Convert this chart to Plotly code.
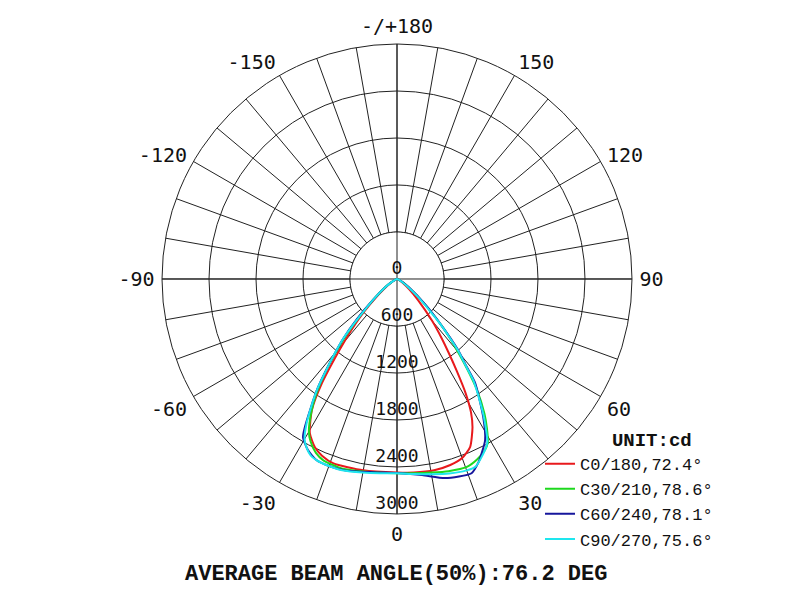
import plotly.graph_objects as go

# ---------------- data (gamma angle in degrees, intensity in cd) ----------------
c0_theta = [-90, -60, -55, -50, -45, -42, -40, -38, -35.8, -33, -29.5, -26, -23, -19, -10, 0,
            5, 11, 16, 20, 23.5, 27, 29, 31, 33, 35, 37, 40, 45, 50, 55, 60, 90]
c0_r = [0, 70, 150, 300, 600, 850, 1050, 1300, 1636, 1995, 2260, 2390, 2450, 2490, 2480, 2470,
        2480, 2487, 2470, 2432, 2340, 2123, 1950, 1700, 1400, 1150, 950, 700, 380, 200, 100, 50, 0]

c30_theta = [-90, -60, -55, -48, -45, -42, -40, -37.5, -35, -33, -30, -28, -25, -22, -16, -10, 0,
             5, 10, 15, 20.4, 24, 27, 29, 31, 33, 36, 38, 40, 42, 45, 50, 55, 60, 90]
c30_r = [0, 80, 180, 450, 680, 980, 1200, 1510, 1800, 2000, 2250, 2350, 2450, 2500, 2520, 2495, 2480,
         2490, 2510, 2540, 2560, 2520, 2460, 2390, 2230, 2050, 1720, 1450, 1200, 1000, 700, 350, 170, 80, 0]

c60_theta = [-90, -60, -55, -48.8, -45, -42, -39.4, -35.8, -31.9, -30.7, -27.5, -24, -20, -15, -7, 0,
             7.3, 13.6, 21, 24, 26, 28.7, 32, 36.9, 38.5, 40.7, 44, 48, 55, 60, 90]
c60_r = [0, 80, 180, 408, 720, 1030, 1290, 1747, 2225, 2350, 2463, 2530, 2540, 2530, 2485, 2478,
         2523, 2615, 2656, 2560, 2470, 2343, 2077, 1660, 1420, 1196, 800, 480, 180, 90, 0]

c90_theta = [-90, -70, -60, -55, -50, -47, -44, -42, -40, -38, -36, -34, -32, -30, -28, -26, -24,
             -20, -16, -10, -5, 0, 5, 10, 15, 20, 22.5, 25, 28.8, 32, 34, 37, 38.5, 40.5, 42, 44,
             46, 50, 55, 60, 70, 90]
c90_r = [0, 20, 80, 180, 350, 520, 780, 1030, 1230, 1450, 1720, 1950, 2180, 2360, 2450, 2510, 2530,
         2540, 2540, 2510, 2490, 2480, 2500, 2530, 2570, 2600, 2600, 2530, 2390, 2100, 1900, 1620,
         1400, 1200, 1000, 780, 580, 330, 150, 70, 20, 0]

series_names = ["C0/180,72.4°", "C30/210,78.6°", "C60/240,78.1°", "C90/270,75.6°"]
series_colors = ["#e8191c", "#1ed81e", "#16169c", "#1ee6ee"]

radial_ticks = [600, 1200, 1800, 2400, 3000]
radial_labels = ["0", "600", "1200", "1800", "2400", "3000"]
angle_ticks = list(range(0, 360, 10))
angle_label_map = {0: "0", 30: "30", 60: "60", 90: "90", 120: "120", 150: "150",
                   180: "-/+180", 210: "-150", 240: "-120", 270: "-90", 300: "-60", 330: "-30"}
angle_text = [angle_label_map.get(a, "") for a in angle_ticks]

summary_text = "AVERAGE BEAM ANGLE(50%):76.2 DEG"
unit_text = "UNIT:cd"

# ---------------- figure ----------------
fig = go.Figure()

# white inner disc (spokes start at the 600 ring)
circ_theta = [i for i in range(0, 361, 2)]
fig.add_trace(go.Scatterpolar(
    r=[radial_ticks[0]] * len(circ_theta), theta=circ_theta, mode="lines",
    fill="toself", fillcolor="white", line=dict(color="#222", width=1),
    hoverinfo="skip", showlegend=False))

# cross lines through the centre
for a, b in [(180, 0), (90, 270)]:
    fig.add_trace(go.Scatterpolar(
        r=[radial_ticks[-1], 0, radial_ticks[-1]], theta=[a, a, b], mode="lines",
        line=dict(color="#222", width=1), hoverinfo="skip", showlegend=False))

for th, rr, name, col in zip([c0_theta, c30_theta, c60_theta, c90_theta],
                             [c0_r, c30_r, c60_r, c90_r], series_names, series_colors):
    fig.add_trace(go.Scatterpolar(r=rr, theta=th, mode="lines", name=name,
                                  line=dict(color=col, width=2, shape="spline", smoothing=0.6)))

# radial labels along the 0 direction
fig.add_trace(go.Scatterpolar(
    r=[0] + radial_ticks, theta=[0] * (len(radial_ticks) + 1), mode="text",
    text=radial_labels, textposition="top center",
    textfont=dict(family="DejaVu Sans Mono", size=18, color="#111"),
    hoverinfo="skip", showlegend=False))

fig.update_layout(
    width=800, height=600,
    margin=dict(l=0, r=0, t=0, b=0),
    paper_bgcolor="white",
    polar=dict(
        domain=dict(x=[0.1925, 0.78], y=[0.1567, 0.94]),
        bgcolor="white",
        angularaxis=dict(
            rotation=-90, direction="counterclockwise",
            tickmode="array", tickvals=angle_ticks, ticktext=angle_text,
            ticks="outside", ticklen=3, tickcolor="rgba(0,0,0,0)",
            showline=True, linecolor="#222", linewidth=1,
            showgrid=True, gridcolor="#222", gridwidth=1,
            tickfont=dict(family="DejaVu Sans Mono", size=20, color="#111"),
        ),
        radialaxis=dict(
            range=[0, 3000], tickmode="array", tickvals=radial_ticks,
            showticklabels=False, ticks="", showline=False,
            showgrid=True, gridcolor="#222", gridwidth=1,
        ),
    ),
    legend=dict(
        x=0.665, y=0.311, xanchor="left", yanchor="top",
        bgcolor="rgba(0,0,0,0)",
        font=dict(family="Liberation Mono", size=17, color="#111"),
        title=dict(text="\u00a0\u00a0\u00a0\u00a0<b>" + unit_text + "</b>", side="top center",
                   font=dict(family="Liberation Mono", size=19, color="#111")),
        tracegroupgap=0, itemwidth=30,
    ),
    annotations=[dict(
        text="<b>" + summary_text + "</b>", x=0.485, y=0.056, xref="paper", yref="paper",
        xanchor="center", yanchor="middle", showarrow=False,
        font=dict(family="Liberation Mono", size=22, color="#111"))],
)

fig.write_html("out.html")
